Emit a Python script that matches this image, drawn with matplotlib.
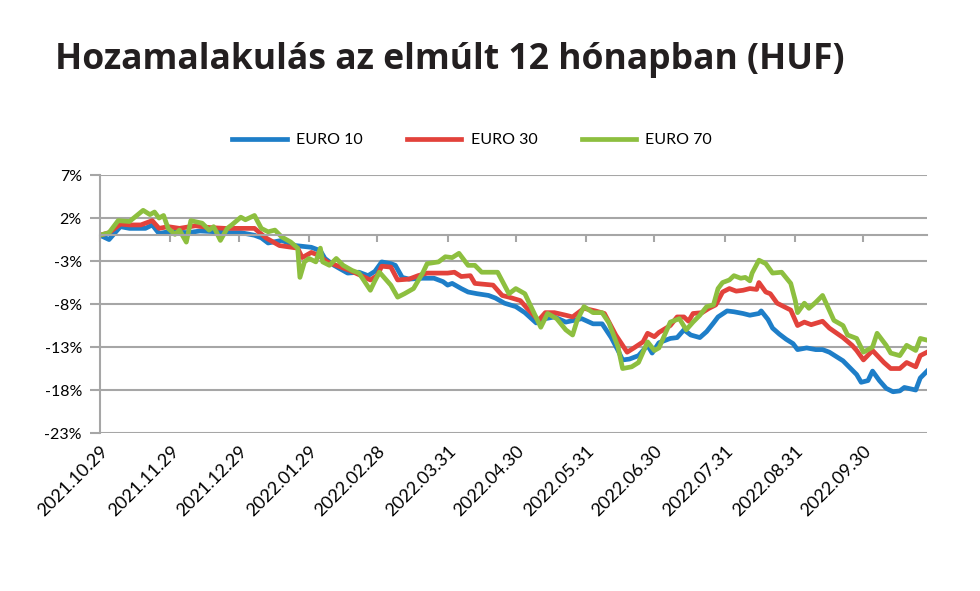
import matplotlib
matplotlib.use("Agg")
import matplotlib.pyplot as plt
import pandas as pd

start = pd.Timestamp("2021-10-29")
end = pd.Timestamp("2022-10-28")

euro10_days = [0, 4, 9, 13, 20, 23, 26, 30, 39, 44, 51, 57, 62, 68, 71, 74, 80, 86, 93, 97,
               99, 103, 109, 114, 118, 121, 124, 128, 130, 133, 136, 142, 147, 151, 153, 155,
               159, 162, 166, 171, 174, 178, 183, 187, 192, 196, 200, 205, 212, 217, 221, 225,
               228, 230, 233, 237, 241, 243, 246, 251, 254, 257, 260, 264, 267, 270, 272, 276,
               279, 283, 286, 290, 291, 294, 296, 299, 302, 305, 307, 311, 315, 318, 321, 327,
               330, 333, 335, 338, 340, 343, 346, 349, 352, 354, 359, 361, 364]
euro10 = [0, -0.5, 1.0, 0.8, 0.8, 1.2, 0.2, 0.4, 0.3, 0.5, 0.4, 0.3, 0.3, 0.0, -0.3, -0.9, -0.6,
          -1.2, -1.4, -1.8, -2.7, -3.5, -4.4, -4.3, -4.7, -4.2, -3.1, -3.3, -3.5, -4.9, -5.1,
          -5.0, -5.0, -5.4, -5.8, -5.6, -6.2, -6.6, -6.8, -7.0, -7.3, -7.9, -8.3, -9.0, -10.2,
          -9.7, -9.5, -10.1, -9.7, -10.3, -10.3, -11.9, -13.4, -14.5, -14.4, -14.0, -12.8,
          -13.7, -12.5, -12.0, -11.9, -11.0, -11.6, -11.9, -11.2, -10.2, -9.5, -8.8, -8.9,
          -9.1, -9.3, -9.1, -8.8, -9.8, -10.8, -11.5, -12.1, -12.6, -13.3, -13.1, -13.3, -13.3,
          -13.6, -14.6, -15.4, -16.2, -17.1, -16.9, -15.8, -16.9, -17.8, -18.2, -18.1, -17.7,
          -18.0, -16.6, -15.8]

euro30_days = [0, 4, 9, 13, 18, 23, 26, 30, 35, 42, 48, 55, 62, 68, 73, 79, 87, 89, 93, 96,
               100, 105, 110, 115, 119, 122, 124, 128, 131, 136, 140, 144, 151, 153, 156, 159,
               163, 165, 173, 177, 180, 185, 188, 193, 196, 200, 205, 208, 213, 218, 222, 227,
               232, 235, 239, 241, 244, 246, 251, 254, 257, 259, 261, 265, 268, 271, 274, 277,
               280, 283, 286, 289, 290, 293, 295, 298, 304, 307, 310, 313, 318, 321, 327, 331,
               333, 336, 340, 345, 348, 352, 355, 359, 361, 364]
euro30 = [0, 0.3, 1.3, 1.2, 1.2, 1.7, 0.8, 1.0, 0.8, 1.1, 0.9, 0.8, 0.8, 0.8, -0.3, -1.2, -1.5,
          -2.6, -2.0, -2.3, -3.1, -3.6, -4.1, -4.7, -5.2, -4.7, -3.6, -3.7, -5.2, -5.1, -4.7,
          -4.4, -4.4, -4.4, -4.3, -4.8, -4.7, -5.6, -5.8, -7.0, -7.2, -7.6, -8.5, -9.9, -9.0,
          -9.0, -9.3, -9.5, -8.5, -8.8, -9.1, -11.6, -13.6, -13.1, -12.4, -11.4, -11.8, -11.3,
          -10.5, -9.5, -9.5, -10.0, -9.1, -9.0, -8.5, -8.1, -6.6, -6.2, -6.5, -6.4, -6.2, -6.3,
          -5.5, -6.6, -6.8, -7.9, -8.7, -10.5, -10.1, -10.4, -10.0, -10.8, -11.9, -12.8, -13.4,
          -14.5, -13.4, -14.8, -15.5, -15.5, -14.8, -15.3, -14.0, -13.6]

euro70_days = [0, 4, 8, 13, 19, 22, 24, 26, 28, 30, 33, 35, 38, 40, 45, 48, 50, 51, 53, 56,
               58, 62, 64, 68, 71, 74, 77, 80, 84, 87, 88, 90, 92, 95, 97, 98, 101, 104, 107,
               111, 114, 116, 119, 121, 123, 128, 131, 134, 138, 142, 144, 149, 152, 155, 158,
               162, 165, 168, 175, 180, 183, 187, 194, 197, 201, 205, 208, 210, 213, 217, 221,
               224, 228, 230, 234, 237, 239, 241, 244, 246, 251, 255, 258, 261, 264, 267, 270,
               272, 274, 277, 279, 282, 284, 286, 287, 290, 293, 296, 300, 304, 306, 307, 310,
               312, 315, 318, 323, 327, 329, 333, 336, 340, 342, 346, 348, 352, 355, 359, 361, 364]
euro70 = [0, 0.3, 1.7, 1.6, 2.9, 2.4, 2.7, 2.0, 2.3, 0.8, 0.1, 0.6, -0.8, 1.7, 1.4, 0.6, 1.0,
          0.5, -0.6, 0.8, 1.2, 2.1, 1.8, 2.3, 0.8, 0.4, 0.6, -0.2, -0.8, -1.5, -4.9, -3.1, -2.7,
          -3.1, -1.5, -3.1, -3.5, -2.7, -3.5, -4.1, -4.4, -5.2, -6.4, -5.3, -4.3, -5.8, -7.2,
          -6.8, -6.2, -4.4, -3.3, -3.1, -2.5, -2.6, -2.1, -3.5, -3.5, -4.3, -4.3, -6.8, -6.2,
          -6.8, -10.7, -9.1, -9.7, -11.0, -11.6, -9.9, -8.3, -9.0, -9.0, -10.2, -13.0, -15.5,
          -15.3, -14.8, -13.6, -12.4, -13.4, -13.1, -10.1, -9.7, -11.0, -10.1, -9.3, -8.3,
          -8.1, -6.2, -5.5, -5.2, -4.7, -5.0, -4.9, -5.3, -4.4, -2.9, -3.3, -4.4, -4.3, -5.6,
          -7.6, -9.0, -7.9, -8.5, -7.8, -7.0, -9.9, -10.5, -11.6, -12.0, -13.6, -13.0, -11.4,
          -12.8, -13.7, -14.0, -12.8, -13.4, -12.0, -12.2]

tick_dates = ["2021-10-29", "2021-11-29", "2021-12-29", "2022-01-29", "2022-02-28",
              "2022-03-31", "2022-04-30", "2022-05-31", "2022-06-30", "2022-07-31",
              "2022-08-31", "2022-09-30"]
y_ticks = [7, 2, -3, -8, -13, -18, -23]

series = [("EURO 10", euro10_days, euro10, "#1E7EC8"),
          ("EURO 30", euro30_days, euro30, "#E2423B"),
          ("EURO 70", euro70_days, euro70, "#8DBF3F")]

grid_c = "#A6A6A6"

fig = plt.figure(figsize=(9.8, 5.91), dpi=100)
ax = fig.add_axes([0.102, 0.2673, 0.844, 0.4365])

for name, days, vals, col in series:
    x = start + pd.to_timedelta(days, unit="D")
    ax.plot(x, vals, color=col, lw=3.4, label=name, solid_joinstyle="round")

ax.set_xlim(start, end)
ax.set_ylim(-23, 7)
ax.set_yticks(y_ticks)
ax.set_yticklabels([f"{v}%" for v in y_ticks], fontfamily="Lato", fontsize=11.5)
ax.yaxis.grid(True, color=grid_c, lw=1.5)
ax.set_axisbelow(True)

for s in ["top", "right"]:
    ax.spines[s].set_visible(False)
ax.spines["left"].set_color(grid_c)
ax.spines["left"].set_linewidth(1.5)
ax.spines["bottom"].set_position(("data", 0))
ax.spines["bottom"].set_color(grid_c)
ax.spines["bottom"].set_linewidth(1.5)
ax.tick_params(axis="y", length=7, width=1.5, color=grid_c, pad=6)

tk = pd.to_datetime(tick_dates)
ax.set_xticks(tk)
ax.tick_params(axis="x", length=5, width=1.5, color=grid_c, labelbottom=False)
for d in tk:
    ax.annotate(d.strftime("%Y.%m.%d"), xy=(d, -23), xytext=(4, -11),
                textcoords="offset points", rotation=45, ha="right", va="center",
                rotation_mode="anchor", fontfamily="Lato", fontsize=13)

fig.legend(loc="center", bbox_to_anchor=(0.482, 0.763), ncol=3, frameon=False,
           handlelength=3.4, columnspacing=2.75, handletextpad=0.6,
           prop={"family": "Lato", "size": 11.5})

fig.text(0.056, 0.898, "Hozamalakulás az elmúlt 12 hónapban (HUF)", fontsize=25.6,
         fontweight="bold", fontfamily="Open Sans", color="#231F20", va="center")

fig.savefig("out.png", dpi=100)
